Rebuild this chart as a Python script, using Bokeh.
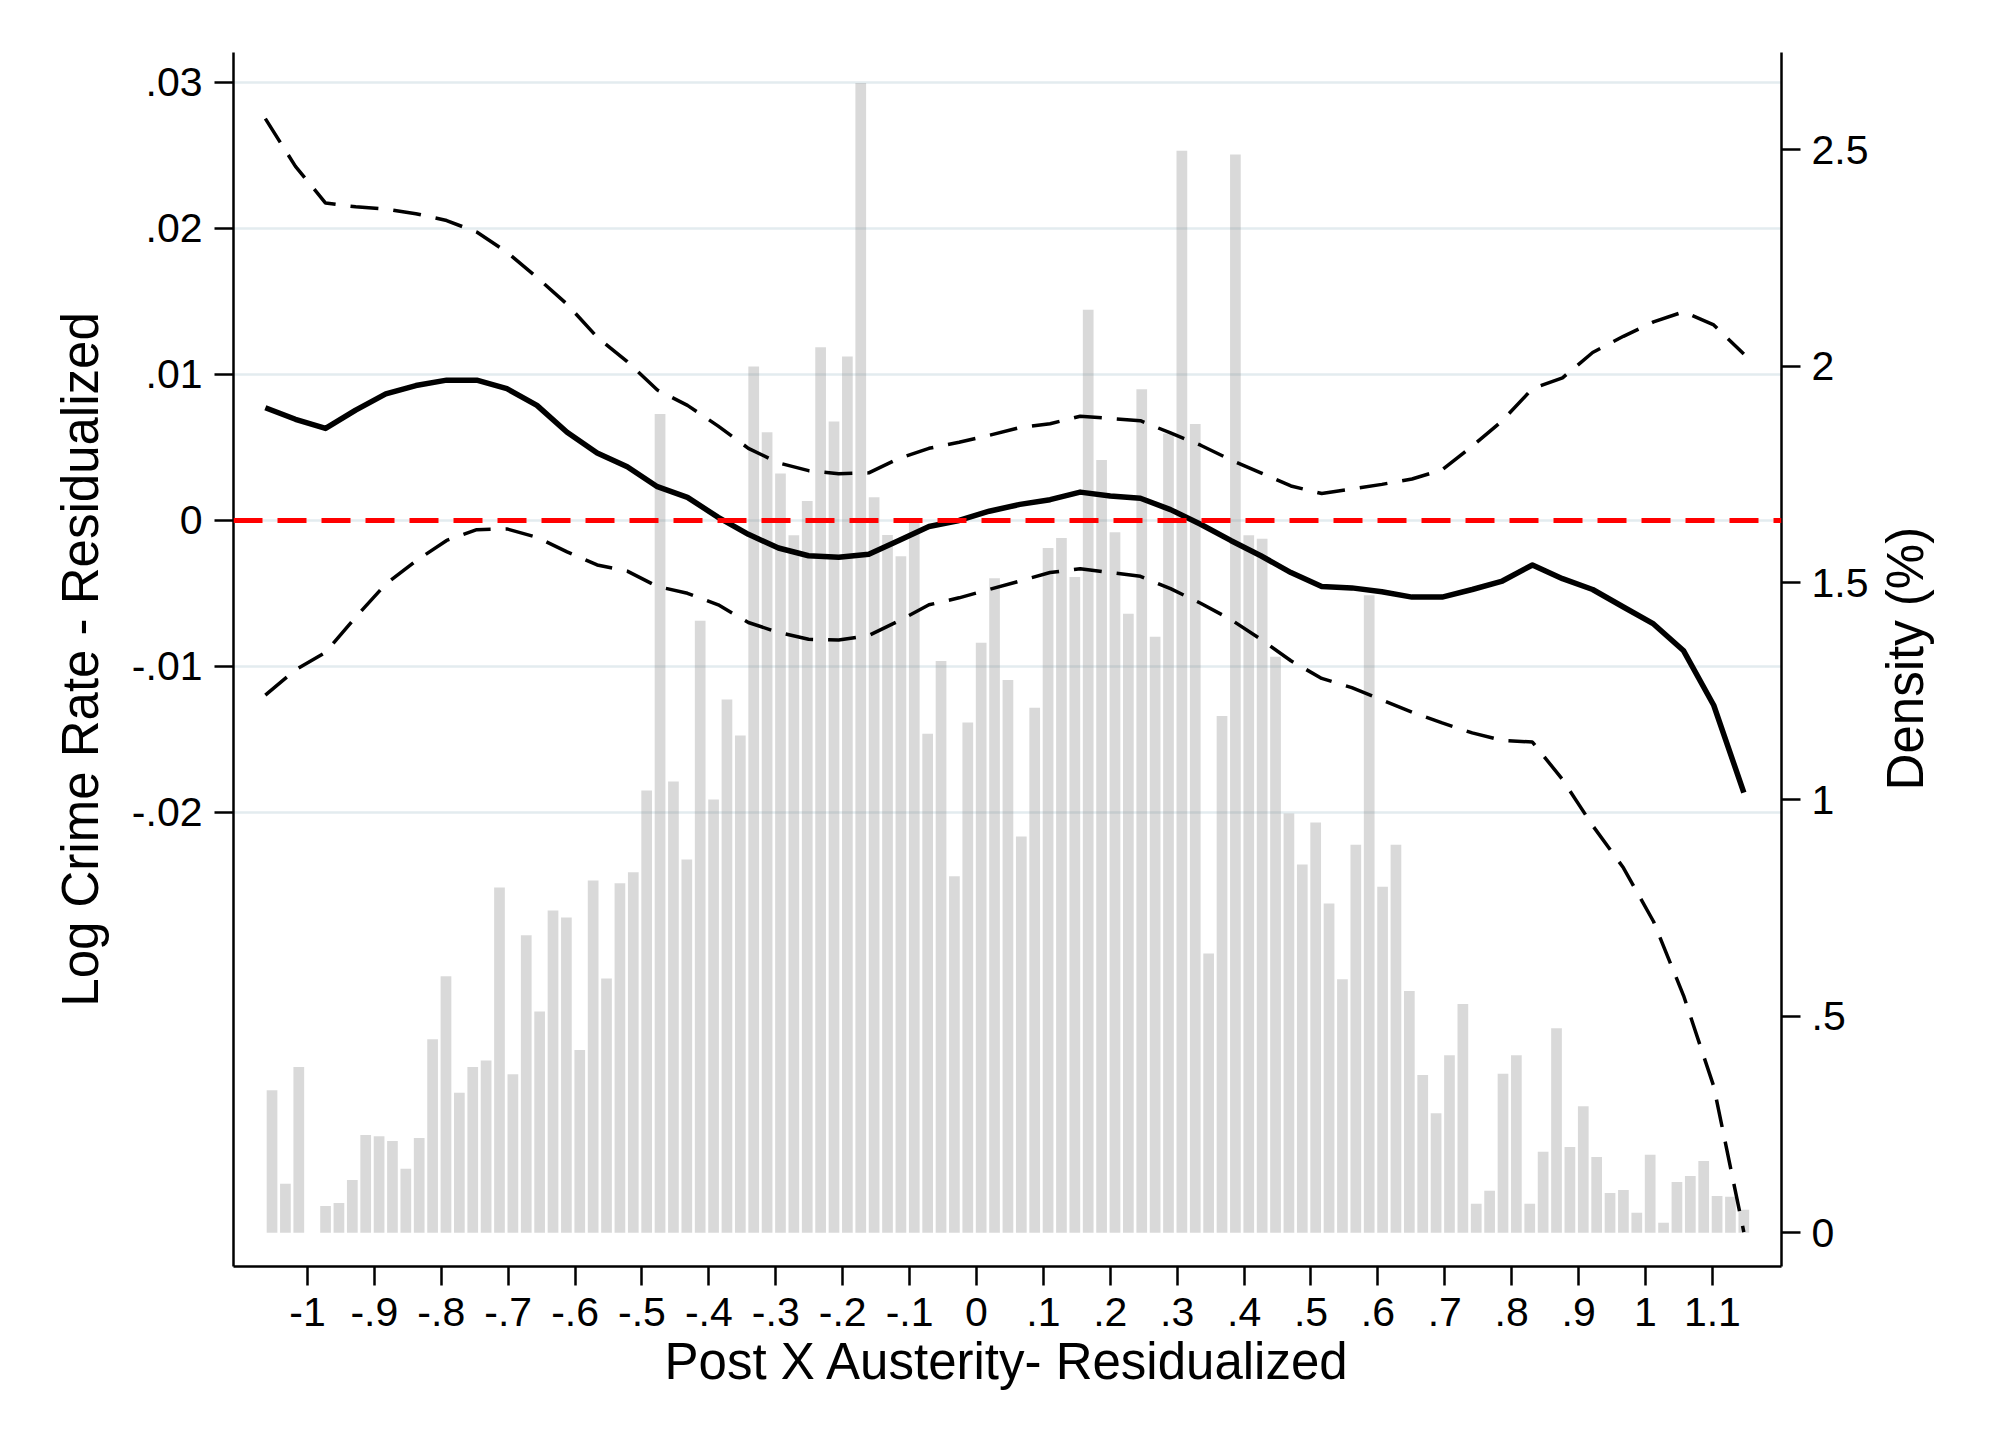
import math
import numpy as np
from bokeh.plotting import figure
from bokeh.layouts import row
from bokeh.models import Range1d, LinearAxis, FixedTicker, Span
from bokeh.core.properties import value
from bokeh.embed import file_html
from bokeh.resources import INLINE

# ---------------- data ----------------
# histogram (right axis, Density %) : bins of width 0.02 starting at -1.063
bin_start = -1.063
bin_width = 0.02
density = [0.329, 0.113, 0.383, 0.0, 0.062, 0.069, 0.122, 0.226, 0.223, 0.212,
           0.148, 0.219, 0.447, 0.592, 0.323, 0.383, 0.398, 0.797, 0.366, 0.687,
           0.511, 0.744, 0.728, 0.422, 0.813, 0.587, 0.807, 0.832, 1.021, 1.890,
           1.042, 0.862, 1.413, 1.000, 1.231, 1.148, 2.000, 1.848, 1.753, 1.610,
           1.689, 2.044, 1.873, 2.023, 2.654, 1.698, 1.611, 1.562, 1.643, 1.152,
           1.320, 0.823, 1.178, 1.362, 1.511, 1.276, 0.915, 1.212, 1.581, 1.604,
           1.514, 2.131, 1.784, 1.617, 1.429, 1.947, 1.376, 1.845, 2.498, 1.867,
           0.645, 1.193, 2.489, 1.610, 1.602, 1.330, 0.968, 0.850, 0.947, 0.760,
           0.585, 0.896, 1.472, 0.799, 0.896, 0.558, 0.364, 0.276, 0.410, 0.528,
           0.067, 0.097, 0.367, 0.410, 0.067, 0.187, 0.472, 0.198, 0.292, 0.175,
           0.092, 0.099, 0.046, 0.180, 0.023, 0.117, 0.131, 0.166, 0.085, 0.083,
           0.053]

# local polynomial fit and confidence band (left axis)
fit_x = [-1.063, -1.018, -0.973, -0.928, -0.883, -0.838, -0.792, -0.747, -0.702, -0.657,
         -0.612, -0.567, -0.522, -0.477, -0.432, -0.386, -0.341, -0.296, -0.251, -0.206,
         -0.161, -0.116, -0.071, -0.026, 0.019, 0.065, 0.110, 0.155, 0.200, 0.245,
         0.290, 0.335, 0.380, 0.425, 0.470, 0.516, 0.561, 0.606, 0.651, 0.696,
         0.741, 0.786, 0.831, 0.876, 0.921, 0.967, 1.012, 1.057, 1.102, 1.147]
fit_y = [0.00772, 0.00693, 0.00630, 0.00756, 0.00867, 0.00924, 0.00961, 0.00961, 0.00903, 0.00788,
         0.00604, 0.00462, 0.00368, 0.00231, 0.00158, 0.00021, -0.00095, -0.00189, -0.00242, -0.00252,
         -0.00231, -0.00137, -0.00042, 0.00000, 0.00063, 0.00110, 0.00142, 0.00194, 0.00168, 0.00152,
         0.00074, -0.00026, -0.00137, -0.00242, -0.00357, -0.00452, -0.00462, -0.00488, -0.00525, -0.00525,
         -0.00473, -0.00415, -0.00305, -0.00399, -0.00473, -0.00593, -0.00709, -0.00893, -0.01266, -0.01864]
ci_upper = [0.02752, 0.02425, 0.02174, 0.02148, 0.02132, 0.02101, 0.02054, 0.01975, 0.01838, 0.01665,
            0.01481, 0.01255, 0.01087, 0.00893, 0.00788, 0.00646, 0.00494, 0.00394, 0.00341, 0.00320,
            0.00326, 0.00425, 0.00494, 0.00536, 0.00583, 0.00636, 0.00662, 0.00714, 0.00699, 0.00683,
            0.00599, 0.00515, 0.00415, 0.00326, 0.00236, 0.00184, 0.00215, 0.00247, 0.00284, 0.00347,
            0.00509, 0.00683, 0.00903, 0.00977, 0.01150, 0.01261, 0.01360, 0.01429, 0.01339, 0.01140]
ci_lower = [-0.01197, -0.01024, -0.00903, -0.00662, -0.00436, -0.00278, -0.00137, -0.00063, -0.00058, -0.00116,
            -0.00215, -0.00305, -0.00347, -0.00452, -0.00499, -0.00578, -0.00699, -0.00767, -0.00814, -0.00819,
            -0.00788, -0.00688, -0.00578, -0.00530, -0.00473, -0.00415, -0.00357, -0.00331, -0.00357, -0.00383,
            -0.00467, -0.00567, -0.00678, -0.00814, -0.00961, -0.01082, -0.01145, -0.01229, -0.01313, -0.01387,
            -0.01455, -0.01507, -0.01518, -0.01775, -0.02090, -0.02379, -0.02747, -0.03256, -0.03876, -0.04874]

# ticks
x_ticks = [-1.0, -0.9, -0.8, -0.7, -0.6, -0.5, -0.4, -0.3, -0.2, -0.1, 0.0,
           0.1, 0.2, 0.3, 0.4, 0.5, 0.6, 0.7, 0.8, 0.9, 1.0, 1.1]
x_tick_labels = ["-1", "-.9", "-.8", "-.7", "-.6", "-.5", "-.4", "-.3", "-.2", "-.1", "0",
                 ".1", ".2", ".3", ".4", ".5", ".6", ".7", ".8", ".9", "1", "1.1"]
y_ticks = [-0.02, -0.01, 0.0, 0.01, 0.02, 0.03]
y_tick_labels = ["-.02", "-.01", "0", ".01", ".02", ".03"]
d_ticks = [0.0, 0.5, 1.0, 1.5, 2.0, 2.5]
d_tick_labels = ["0", ".5", "1", "1.5", "2", "2.5"]

x_title = "Post X Austerity- Residualized"
y_title = "Log Crime Rate - Residualized"
d_title = "Density (%)"

# ---------------- layout constants ----------------
FONT = "Liberation Sans"
TICK_FS = "41px"
TITLE_FS = "51px"
BORDER_L, BORDER_R, BORDER_T, BORDER_B = 233, 94, 52, 168
FRAME_W, FRAME_H = 1548, 1214
FIG_H = BORDER_T + FRAME_H + BORDER_B
SIDE_W = 110

bin_centers = bin_start + bin_width * (np.arange(len(density)) + 0.5)

p = figure(frame_width=FRAME_W, frame_height=FRAME_H,
           x_range=Range1d(-1.1106, 1.2033), y_range=Range1d(-0.0511, 0.03205),
           output_backend="svg", toolbar_location=None,
           min_border_left=BORDER_L, min_border_right=BORDER_R,
           min_border_top=BORDER_T, min_border_bottom=BORDER_B,
           background_fill_color="white", border_fill_color="white")
p.outline_line_color = None
p.extra_y_ranges = {"density": Range1d(-0.0778, 2.7246)}

p.xgrid.visible = False
p.ygrid.ticker = FixedTicker(ticks=y_ticks)
p.ygrid.grid_line_color = "#e3ecef"
p.ygrid.grid_line_width = 2.5

# histogram bars
p.vbar(x=bin_centers, top=density, bottom=0, width=bin_width * 0.8,
       y_range_name="density", fill_color="#808080", fill_alpha=0.3, line_color=None)

# zero reference line
p.add_layout(Span(location=0, dimension="width", line_color="#ff0000",
                  line_width=5, line_dash="29 15"))

# fit + CI
p.line(fit_x, ci_upper, line_color="black", line_width=3.5, line_dash="28 15")
p.line(fit_x, ci_lower, line_color="black", line_width=3.5, line_dash="28 15")
p.line(fit_x, fit_y, line_color="black", line_width=5.5, line_join="round")

# axes
def style_axis(ax, ticks, labels):
    ax.ticker = FixedTicker(ticks=ticks)
    ax.major_label_overrides = dict(zip(ticks, labels))
    ax.axis_line_color = "black"
    ax.axis_line_width = 2.5
    ax.major_tick_line_color = "black"
    ax.major_tick_line_width = 2.5
    ax.major_tick_out = 19
    ax.major_tick_in = 0
    ax.minor_tick_out = 0
    ax.minor_tick_in = 0
    ax.major_label_text_font = FONT
    ax.major_label_text_font_size = TICK_FS
    ax.major_label_text_color = "black"
    ax.axis_label_text_font = FONT
    ax.axis_label_text_font_size = TITLE_FS
    ax.axis_label_text_font_style = "normal"
    ax.axis_label_text_color = "black"

xa = p.xaxis[0]
style_axis(xa, x_ticks, x_tick_labels)
xa.axis_label = x_title
xa.major_label_standoff = 12
xa.axis_label_standoff = 4

ya = p.yaxis[0]
style_axis(ya, y_ticks, y_tick_labels)
ya.axis_label = y_title
ya.major_label_standoff = 12
ya.axis_label_standoff = 20

ra = LinearAxis(y_range_name="density")
style_axis(ra, d_ticks, d_tick_labels)
ra.major_label_standoff = 11
p.add_layout(ra, "right")

# right-hand axis title, reading bottom-to-top, in a narrow strip next to the plot
side = figure(width=SIDE_W, height=FIG_H,
              x_range=Range1d(0, SIDE_W), y_range=Range1d(FIG_H, 0),
              x_axis_type=None, y_axis_type=None,
              output_backend="svg", toolbar_location=None,
              min_border=0, min_border_left=0, min_border_right=0,
              min_border_top=0, min_border_bottom=0,
              background_fill_color="white", border_fill_color="white")
side.outline_line_color = None
side.grid.visible = False
title_x = 30    # baseline position inside the strip (px)
title_y = 716   # vertical centre (px from top)
side.text(x=[title_x], y=[title_y], text=[d_title], angle=math.pi / 2,
          text_align="center", text_baseline="alphabetic",
          text_font=value(FONT), text_font_size=TITLE_FS, text_color="black")

layout = row(p, side, spacing=0)
open("out.html", "w").write(file_html(layout, INLINE))
